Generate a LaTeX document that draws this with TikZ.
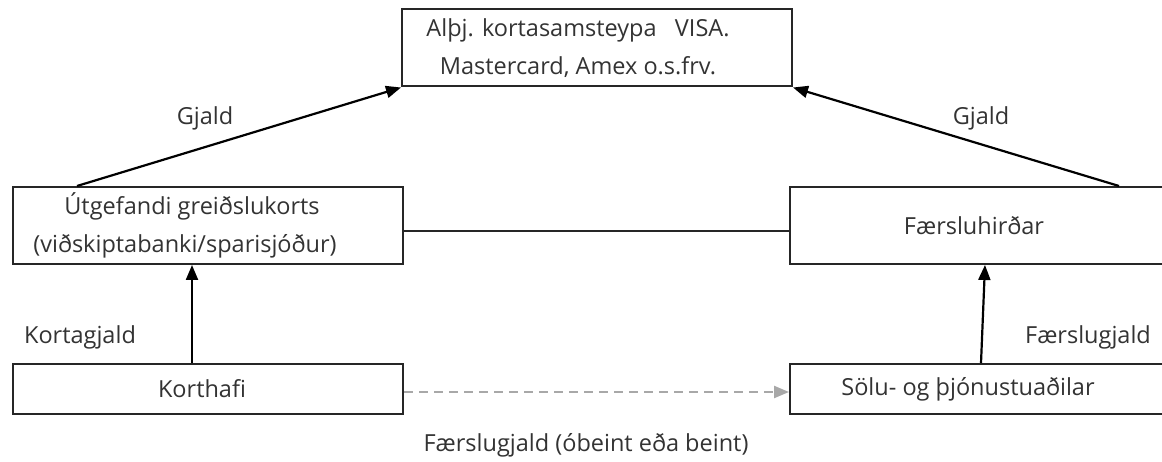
\documentclass[tikz,border=0pt]{standalone}
\usepackage{fontspec}
\setmainfont{Open Sans}
\usetikzlibrary{arrows.meta,calc}
\definecolor{txt}{HTML}{333333}
\definecolor{dash}{HTML}{A8A8A8}
\newcommand\padright[1]{\kern#1pt}
\tikzset{
  box/.style={draw=black!85, line width=2pt, minimum height=#1, inner sep=0pt, text=txt, font=\fontsize{23.5}{38}\selectfont, align=center},
  lbl/.style={text=txt, font=\fontsize{23.5}{28}\selectfont, inner sep=0pt},
  arr/.style={line width=2.2pt, draw=black, -{Triangle[length=15pt,width=12pt]}},
  plain/.style={line width=2pt, draw=black!85},
  darr/.style={line width=2.2pt, draw=dash, dash pattern=on 9pt off 6pt, -{Triangle[length=15pt,width=12pt]}}
}
\begin{document}
\begin{tikzpicture}[x=1pt,y=-1pt]
\clip (0,0) rectangle (1162,462);
\fill[white] (0,0) rectangle (1162,462);
\node[box=77pt, minimum width=390pt] (top) at (597,48) {Alþj. kortasamsteypa \ \ VISA.\padright{38}\\ Mastercard, Amex o.s.frv.\padright{38}};
\node[box=77pt, minimum width=390pt] (utg) at (208,225.5) {Útgefandi greiðslukorts\padright{32}\\(viðskiptabanki/sparisjóður)\padright{46}};
\node[box=77pt, minimum width=390pt] (fh) at (985,225.5) {Færsluhirðar\padright{22}};
\node[box=50pt, minimum width=390pt] (kort) at (208,389) {Korthafi\padright{12}};
\node[box=50pt, minimum width=390pt] (solu) at (985,389) {Sölu- og þjónustuaðilar\padright{34}};
\draw[arr] ($(utg.north west)+(65,0)$) -- (top.south west);
\draw[arr] ($(fh.north west)+(330,0)$) -- (top.south east);
\draw[plain] ($(utg.east)+(0,6)$) -- ($(fh.west)+(0,6)$);
\draw[arr] ($(kort.north west)+(180,0)$) -- ($(utg.south west)+(180,0)$);
\draw[arr] ($(solu.north west)+(192,0)$) -- ($(fh.south west)+(196,0)$);
\draw[darr] ($(kort.east)+(0,3)$) -- ($(solu.west)+(0,3)$);
\node[lbl] (g1) at (205,118) {Gjald};
\node[lbl] (g2) at (981,118) {Gjald};
\node[lbl] (kg) at (80,337) {Kortagjald};
\node[lbl] (fg) at (1088,337) {Færslugjald};
\node[lbl] (fgb) at (586,445) {Færslugjald (óbeint eða beint)};
\end{tikzpicture}
\end{document}
